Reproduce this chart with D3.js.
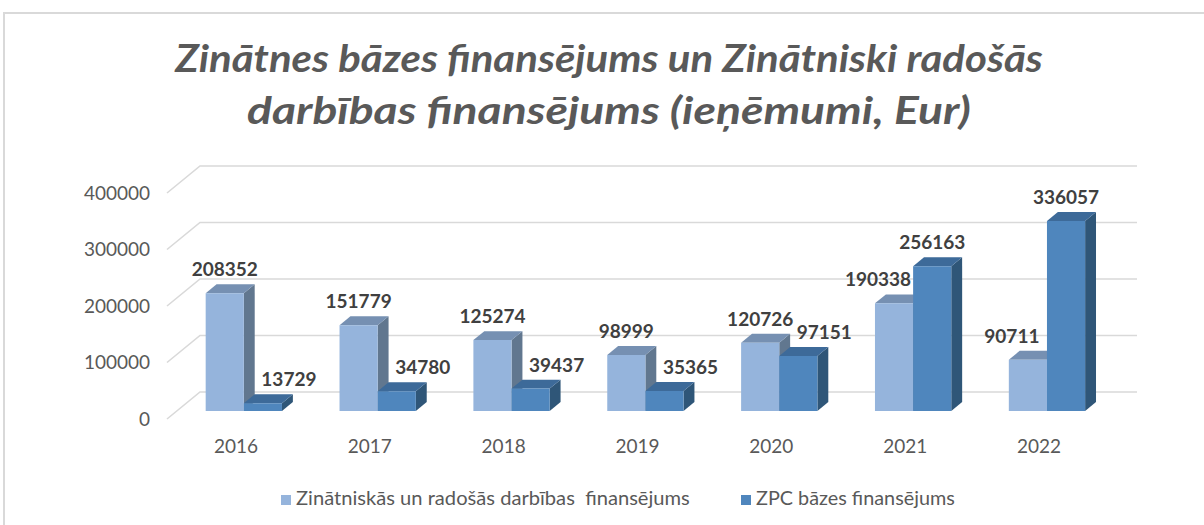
<!DOCTYPE html>
<html>
<head>
<meta charset="utf-8">
<script src="https://cdn.jsdelivr.net/npm/d3@7"></script>
<style>
  html, body { margin: 0; padding: 0; background: #fff; }
  svg text { font-family: Lato, "Open Sans", sans-serif; }
</style>
</head>
<body>
<div id="chart"></div>
<script>
// data
const years = ['2016', '2017', '2018', '2019', '2020', '2021', '2022'];
const artsFunding = [208352, 151779, 125274, 98999, 120726, 190338, 90711];   // Zinātniskās un radošās darbības finansējums
const baseFunding = [13729, 34780, 39437, 35365, 97151, 256163, 336057];     // ZPC bāzes finansējums
const yTicks = [0, 100000, 200000, 300000, 400000];
const seriesNames = ['Zinātniskās un radošās darbības  finansējums', 'ZPC bāzes finansējums'];
const titleLines = ['Zinātnes bāzes finansējums un Zinātniski radošās', 'darbības finansējums (ieņēmumi, Eur)'];

(function() {
  const W = 1204, H = 525;
  const svg = d3.select('#chart').append('svg')
    .attr('width', W).attr('height', H);

  // stretch/squeeze a text horizontally to a target width (Calibri metrics differ)
  function fitWidth(sel, anchorX, target) {
    sel.each(function(d, i) {
      const w = this.getComputedTextLength();
      const tw = typeof target === 'function' ? target(d, i) : target;
      const s = tw / w;
      d3.select(this)
        .attr('transform', `translate(${anchorX},0) scale(${s},1) translate(${-anchorX},0)`);
    });
  }

  // frame
  svg.append('path')
    .attr('d', `M4,${H} V13 H${W}`)
    .attr('fill', 'none')
    .attr('stroke', '#d9d9d9')
    .attr('stroke-width', 2);

  // title
  const titleW = [868, 724];
  const title = svg.selectAll('.title')
    .data(titleLines)
    .enter().append('text')
    .attr('class', 'title')
    .attr('x', 609)
    .attr('y', (d, i) => 72 + i * 52)
    .attr('text-anchor', 'middle')
    .style('font-size', '38px')
    .style('font-weight', 'bold')
    .style('font-style', 'italic')
    .style('fill', '#595959')
    .text(d => d);
  fitWidth(title, 609, (d, i) => titleW[i]);

  // scales (front plane) + depth offset
  const depthX = 33, depthY = -27;
  const x = d3.scaleBand().domain(years).range([167, 1104])
    .paddingInner(0.43).paddingOuter(0.215);
  const x1 = d3.scaleBand().domain([0, 1]).range([0, x.bandwidth()]);
  const y = d3.scaleLinear().domain([0, 400000]).range([419, 193]);
  const P = (px, v, z) => [px + depthX * z, y(v) + depthY * z];

  // gridlines: side wall diagonal + back wall
  const grid = svg.append('g');
  yTicks.forEach(t => {
    const a = P(167, t, 0), b = P(167, t, 1), c = P(1104, t, 1);
    grid.append('polyline')
      .attr('points', [a, b, c].map(p => p.join(',')).join(' '))
      .attr('fill', 'none')
      .attr('stroke', '#d9d9d9')
      .attr('stroke-width', 1.6);
  });

  // y axis labels
  svg.selectAll('.ytick')
    .data(yTicks)
    .enter().append('text')
    .attr('x', 150)
    .attr('y', d => y(d))
    .attr('dy', '0.36em')
    .attr('text-anchor', 'end')
    .style('font-size', '19px')
    .style('fill', '#595959')
    .text(d => d);

  // bars
  const zf = 0.3, zb = 0.63;
  const colors = [
    { front: '#95b4dc', top: '#7690b2', side: '#61778f' },
    { front: '#4f86bd', top: '#3d6a99', side: '#2f5678' }
  ];
  const series = [artsFunding, baseFunding];
  const poly = pts => pts.map(p => p.join(',')).join(' ');

  const bars = [];
  years.forEach((yr, i) => {
    series.forEach((s, k) => {
      bars.push({ yr, i, k, v: s[i], other: series[1 - k][i] });
    });
  });

  const barG = svg.append('g');
  bars.forEach(d => {
    const x0 = x(d.yr) + x1(d.k), xr = x0 + x1.bandwidth();
    const c = colors[d.k];
    const g = barG.append('g');
    // side face
    g.append('polygon')
      .attr('points', poly([P(xr, 0, zf), P(xr, 0, zb), P(xr, d.v, zb), P(xr, d.v, zf)]))
      .attr('fill', c.side);
    // top face
    g.append('polygon')
      .attr('points', poly([P(x0, d.v, zf), P(xr, d.v, zf), P(xr, d.v, zb), P(x0, d.v, zb)]))
      .attr('fill', c.top);
    // front face
    g.append('polygon')
      .attr('points', poly([P(x0, 0, zf), P(xr, 0, zf), P(xr, d.v, zf), P(x0, d.v, zf)]))
      .attr('fill', c.front);
  });

  // data labels (shifted sideways when the neighbour bar is taller)
  svg.selectAll('.vlabel')
    .data(bars)
    .enter().append('text')
    .attr('class', 'vlabel')
    .attr('x', d => {
      const cx = P(x(d.yr) + x1(d.k) + x1.bandwidth() / 2, d.v, zf)[0];
      if (d.k === 1 && d.v < d.other) return cx + 26;
      if (d.k === 0 && d.v < d.other) return cx - 16;
      return cx;
    })
    .attr('y', d => P(0, d.v, zb)[1] - 8)
    .attr('text-anchor', 'middle')
    .style('font-size', '19px')
    .style('font-weight', 'bold')
    .style('fill', '#404040')
    .text(d => d.v);

  // category labels
  svg.selectAll('.xtick')
    .data(years)
    .enter().append('text')
    .attr('x', d => x(d) + x.bandwidth() / 2 + 2)
    .attr('y', 453)
    .attr('text-anchor', 'middle')
    .style('font-size', '19px')
    .style('fill', '#595959')
    .text(d => d);

  // legend
  const legendX = [281, 741], legendW = [394, 199];
  const leg = svg.selectAll('.legend')
    .data(seriesNames)
    .enter().append('g')
    .attr('transform', (d, i) => `translate(${legendX[i]}, 495)`);
  leg.append('rect')
    .attr('width', 10).attr('height', 10)
    .attr('fill', (d, i) => colors[i].front);
  const legText = leg.append('text')
    .attr('x', 15)
    .attr('y', 10)
    .style('white-space', 'pre')
    .style('font-size', '19.5px')
    .style('fill', '#595959')
    .text(d => d);
  fitWidth(legText, 15, (d, i) => legendW[i]);
})();
</script>
</body>
</html>
